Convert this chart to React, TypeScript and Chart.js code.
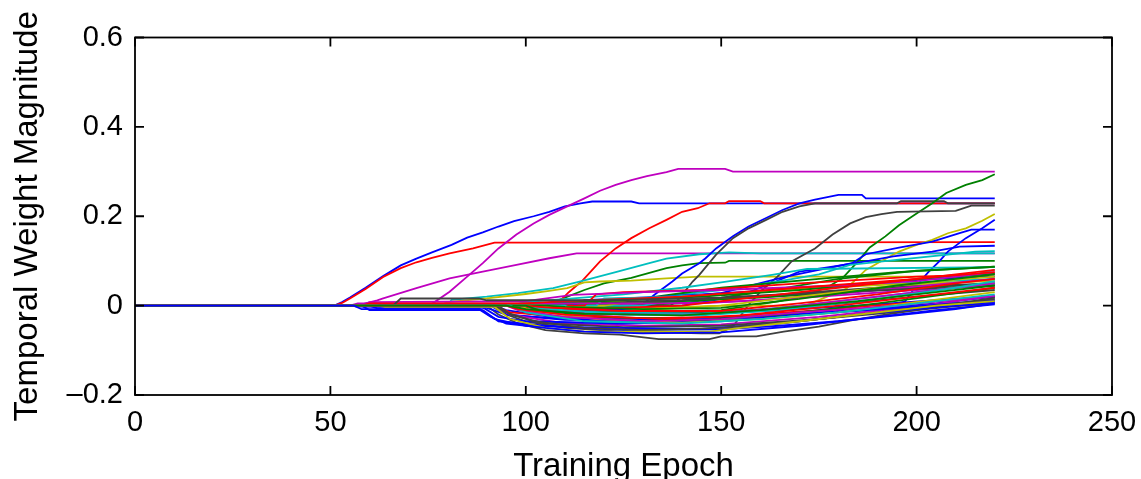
import React, { useEffect, useRef } from "react";
import { Chart, registerables } from "chart.js";

Chart.register(...registerables);

type Pt = [number, number];
type Trace = { color: string; points: Pt[] };

const COLORS: Record<string, string> = {
  b: "#0000ff",
  g: "#008000",
  r: "#ff0000",
  c: "#00bfbf",
  m: "#bf00bf",
  y: "#bfbf00",
  k: "#404040",
};

const xTicks = [0, 50, 100, 150, 200, 250];
const yTicks = [-0.2, 0, 0.2, 0.4, 0.6];
const xTitle = "Training Epoch";
const yTitle = "Temporal Weight Magnitude";

// traces that dip below zero in the middle of training
const dippingTraces: Trace[] = [
  { color: "b", points: [[0, 0], [56, 0], [58, -0.008], [88, -0.008], [91, -0.025], [95, -0.04], [105, -0.05], [115, -0.058], [130, -0.062], [150, -0.06], [170, -0.045], [190, -0.025], [205, -0.01], [220, 0.003]] },
  { color: "g", points: [[0, 0], [95, 0], [100, -0.008], [115, -0.018], [140, -0.022], [160, -0.01], [185, 0.01], [205, 0.03], [220, 0.045]] },
  { color: "r", points: [[0, 0], [95, 0], [98, -0.008], [110, -0.02], [135, -0.03], [155, -0.022], [180, 0.0], [200, 0.02], [220, 0.04]] },
  { color: "c", points: [[0, 0], [96, 0], [100, -0.015], [115, -0.035], [140, -0.04], [160, -0.03], [180, -0.015], [200, 0.005], [220, 0.025]] },
  { color: "m", points: [[0, 0], [95, 0], [98, -0.01], [110, -0.025], [130, -0.035], [150, -0.03], [170, -0.015], [195, 0.0], [220, 0.022]] },
  { color: "y", points: [[0, 0], [62, 0], [64, -0.003], [92, -0.003], [96, -0.03], [105, -0.05], [115, -0.058], [147, -0.058], [155, -0.05], [170, -0.035], [190, -0.015], [205, 0.0], [220, 0.01]] },
  { color: "k", points: [[0, 0], [92, 0], [95, -0.015], [102, -0.035], [115, -0.05], [130, -0.055], [150, -0.05], [170, -0.035], [190, -0.015], [210, 0.005], [220, 0.015]] },
  { color: "b", points: [[0, 0], [60, 0], [62, -0.006], [88, -0.006], [92, -0.03], [100, -0.045], [120, -0.05], [145, -0.052], [165, -0.04], [185, -0.02], [200, -0.008], [220, 0.008]] },
  { color: "g", points: [[0, 0], [100, 0], [104, -0.012], [120, -0.025], [145, -0.032], [165, -0.02], [190, 0.005], [210, 0.028], [220, 0.04]] },
  { color: "r", points: [[0, 0], [100, 0], [105, -0.004], [125, -0.012], [150, -0.012], [170, 0.005], [190, 0.025], [210, 0.05], [220, 0.06]] },
  { color: "c", points: [[0, 0], [100, 0], [104, -0.006], [125, -0.02], [145, -0.022], [165, -0.01], [190, 0.015], [210, 0.04], [220, 0.055]] },
  { color: "m", points: [[0, 0], [100, 0], [103, -0.01], [120, -0.02], [145, -0.02], [165, -0.005], [190, 0.02], [210, 0.04], [220, 0.05]] },
  { color: "y", points: [[0, 0], [98, 0], [102, -0.012], [118, -0.03], [140, -0.038], [160, -0.03], [180, -0.015], [200, 0.008], [220, 0.03]] },
  { color: "k", points: [[0, 0], [93, 0], [96, -0.02], [105, -0.04], [125, -0.048], [150, -0.045], [175, -0.03], [200, -0.01], [220, 0.018]] },
  { color: "b", points: [[0, 0], [64, 0], [66, -0.004], [89, -0.004], [93, -0.025], [100, -0.035], [125, -0.04], [150, -0.035], [175, -0.018], [200, -0.002], [220, 0.012]] },
  { color: "g", points: [[0, 0], [105, 0], [110, -0.003], [130, -0.008], [150, -0.005], [170, 0.015], [195, 0.045], [210, 0.06], [220, 0.07]] },
  { color: "r", points: [[0, 0], [98, 0], [102, -0.006], [115, -0.008], [140, 0.0], [160, 0.02], [185, 0.045], [205, 0.065], [220, 0.075]] },
  { color: "c", points: [[0, 0], [100, 0], [104, -0.01], [120, -0.015], [145, -0.018], [165, -0.005], [190, 0.02], [210, 0.04], [220, 0.05]] },
  { color: "m", points: [[0, 0], [92, 0], [96, -0.02], [110, -0.04], [130, -0.045], [150, -0.042], [175, -0.025], [200, -0.002], [220, 0.022]] },
  { color: "y", points: [[0, 0], [105, 0], [108, -0.003], [130, -0.006], [150, 0.0], [170, 0.02], [195, 0.045], [210, 0.058], [220, 0.065]] },
  { color: "k", points: [[0, 0], [100, 0], [104, -0.008], [125, -0.015], [150, -0.015], [175, 0.0], [200, 0.02], [220, 0.035]] },
  { color: "b", points: [[0, 0], [55, 0], [57, -0.002], [90, -0.005], [95, -0.02], [110, -0.03], [140, -0.032], [160, -0.025], [185, -0.01], [205, 0.005], [220, 0.02]] },
  { color: "r", points: [[0, 0], [92, 0], [96, -0.015], [110, -0.025], [130, -0.028], [150, -0.025], [175, -0.01], [200, 0.008], [220, 0.02]] },
  { color: "c", points: [[0, 0], [110, 0], [115, -0.02], [130, -0.03], [150, -0.03], [170, -0.02], [195, -0.005], [220, 0.012]] },
  { color: "b", points: [[0, 0], [97, 0], [100, -0.01], [115, -0.018], [140, -0.02], [160, -0.012], [185, 0.0], [205, 0.012], [220, 0.02]] },
  { color: "b", points: [[0, 0], [91, 0], [95, -0.02], [110, -0.032], [135, -0.036], [155, -0.03], [180, -0.012], [200, 0.0], [220, 0.01]] },
  { color: "b", points: [[0, 0], [58, 0], [60, -0.01], [89, -0.01], [93, -0.035], [105, -0.045], [125, -0.055], [150, -0.053], [165, -0.045], [180, -0.035], [195, -0.022], [210, -0.008], [220, 0.005]] },
  { color: "k", points: [[0, 0], [90, 0], [93, -0.02], [98, -0.04], [105, -0.055], [115, -0.062], [124, -0.065], [134, -0.075], [147, -0.075], [150, -0.069], [159, -0.069], [166, -0.058], [175, -0.047], [184, -0.032], [192, -0.02], [201, -0.009], [209, -0.002], [220, 0.005]] },
];

// traces that stay slightly positive and creep upwards
const smallRisers: Trace[] = [
  { color: "k", points: [[0, 0], [66, 0], [68, 0.016], [88, 0.016], [90, 0.012], [120, 0.012], [150, 0.018], [180, 0.03], [220, 0.045]] },
  { color: "r", points: [[0, 0], [58, 0], [60, 0.005], [100, 0.005], [110, 0.01], [140, 0.02], [170, 0.04], [200, 0.06], [220, 0.08]] },
  { color: "m", points: [[0, 0], [58, 0], [60, 0.008], [100, 0.01], [112, 0.024], [130, 0.03], [150, 0.035], [180, 0.045], [200, 0.055], [220, 0.075]] },
  { color: "m", points: [[0, 0], [55, 0], [57, 0.005], [144, 0.005], [160, 0.012], [185, 0.03], [220, 0.06]] },
  { color: "g", points: [[0, 0], [90, 0], [95, 0.003], [120, 0.01], [145, 0.02], [170, 0.035], [195, 0.055], [220, 0.072]] },
  { color: "r", points: [[0, 0], [115, 0], [118, 0.025], [125, 0.03], [145, 0.035], [170, 0.05], [200, 0.065], [220, 0.07]] },
  { color: "y", points: [[0, 0], [95, 0], [100, 0.005], [125, 0.012], [150, 0.025], [175, 0.04], [200, 0.05], [220, 0.055]] },
  { color: "c", points: [[0, 0], [118, 0], [120, 0.016], [130, 0.018], [150, 0.025], [175, 0.04], [200, 0.052], [220, 0.06]] },
  { color: "b", points: [[0, 0], [112, 0], [115, 0.012], [135, 0.02], [155, 0.03], [180, 0.045], [205, 0.06], [220, 0.065]] },
  { color: "k", points: [[0, 0], [108, 0], [112, 0.006], [140, 0.012], [165, 0.025], [190, 0.04], [220, 0.05]] },
  { color: "g", points: [[0, 0], [60, 0], [62, 0.002], [100, 0.002], [130, 0.006], [160, 0.018], [190, 0.035], [220, 0.05]] },
  { color: "y", points: [[0, 0], [120, 0], [125, 0.006], [150, 0.015], [175, 0.03], [200, 0.045], [220, 0.058]] },
  { color: "c", points: [[0, 0], [130, 0], [135, 0.008], [160, 0.02], [185, 0.035], [205, 0.05], [220, 0.08]] },
  { color: "m", points: [[0, 0], [120, 0], [125, 0.004], [150, 0.008], [175, 0.02], [200, 0.035], [220, 0.045]] },
  { color: "g", points: [[0, 0], [120, 0], [125, 0.01], [150, 0.04], [175, 0.06], [195, 0.075], [220, 0.087]] },
];

// traces that climb to the 0.1 - 0.2 band late in training
const lateRisers: Trace[] = [
  { color: "c", points: [[0, 0], [96, 0], [100, 0.008], [125, 0.025], [140, 0.04], [150, 0.052], [163, 0.069], [172, 0.082], [220, 0.086]] },
  { color: "g", points: [[0, 0], [105, 0], [110, -0.005], [140, 0.005], [160, 0.03], [180, 0.06], [200, 0.078], [220, 0.087]] },
  { color: "c", points: [[0, 0], [105, 0], [108, 0.005], [130, 0.015], [150, 0.035], [165, 0.055], [175, 0.07], [183, 0.091], [195.5, 0.103], [208, 0.114], [215, 0.121], [220, 0.122]] },
  { color: "b", points: [[0, 0], [100, 0], [102, -0.005], [120, -0.01], [140, 0.0], [150, 0.015], [157, 0.03], [164, 0.054], [170, 0.076], [178.5, 0.087], [187, 0.099], [194, 0.11], [204, 0.121], [211, 0.132], [220, 0.134]] },
  { color: "b", points: [[0, 0], [95, 0], [97, 0.004], [110, 0.008], [125, 0.012], [140, 0.02], [150, 0.028], [158, 0.046], [166.6, 0.065], [175, 0.08], [183.5, 0.095], [187, 0.115], [195.5, 0.13], [204, 0.143], [211, 0.162], [214, 0.17], [220, 0.17]] },
  { color: "b", points: [[0, 0], [92, 0], [95, -0.01], [110, -0.03], [140, -0.03], [170, -0.02], [185, -0.01], [192, 0.0], [197, 0.009], [200, 0.045], [203, 0.075], [205.8, 0.099], [208, 0.121], [212.6, 0.151], [216.8, 0.173], [220, 0.192]] },
  { color: "y", points: [[0, 0], [100, 0], [103, -0.005], [130, -0.01], [150, 0.0], [162, 0.0], [171, -0.002], [182, 0.038], [187, 0.08], [191, 0.1], [195.5, 0.121], [200, 0.136], [204, 0.147], [208, 0.162], [212.6, 0.173], [216.8, 0.19], [220, 0.205]] },
  { color: "k", points: [[0, 0], [92, 0], [95, -0.02], [100, -0.035], [110, -0.05], [125, -0.058], [145, -0.062], [149.5, -0.062], [153, -0.047], [157, 0.002], [160.5, 0.035], [164.4, 0.065], [168, 0.099], [174, 0.128], [178.5, 0.159], [183, 0.184], [187, 0.198], [191, 0.205], [195, 0.21], [210, 0.212], [214, 0.224], [220, 0.224]] },
  { color: "g", points: [[0, 0], [100, 0], [104, -0.01], [120, -0.015], [150, -0.01], [165, 0.01], [172, 0.025], [177, 0.04], [181, 0.061], [185, 0.099], [188, 0.13], [192, 0.155], [195.5, 0.18], [200, 0.206], [204, 0.229], [207.6, 0.252], [212.6, 0.27], [216.8, 0.281], [220, 0.294]] },
];

// the large early movers
const majorTraces: Trace[] = [
  { color: "k", points: [[0, 0], [137, 0], [139, 0.013], [142.7, 0.054], [144.4, 0.069], [148.7, 0.114], [153, 0.151], [157, 0.173], [161.5, 0.192], [165.7, 0.21], [170, 0.222], [174, 0.229], [195, 0.229], [196, 0.234], [207, 0.234], [208, 0.229], [220, 0.229]] },
  { color: "b", points: [[0, 0], [128, 0], [130, 0.004], [133, 0.025], [137.5, 0.054], [140, 0.072], [144.4, 0.095], [146, 0.106], [148.7, 0.128], [153, 0.155], [157, 0.177], [161.5, 0.196], [165.7, 0.214], [170, 0.229], [174, 0.237], [180, 0.248], [186, 0.248], [187, 0.24], [220, 0.24]] },
  { color: "y", points: [[0, 0], [78, 0], [80, 0.008], [90, 0.016], [100, 0.026], [106, 0.033], [110.6, 0.039], [115, 0.052], [119, 0.054], [127, 0.056], [136, 0.061], [144.4, 0.065], [220, 0.065]] },
  { color: "c", points: [[0, 0], [80, 0], [81, 0.013], [90, 0.02], [98, 0.028], [107, 0.039], [114, 0.054], [123, 0.075], [131.6, 0.095], [136, 0.105], [144.4, 0.115], [152, 0.119], [160, 0.117], [220, 0.117]] },
  { color: "r", points: [[0, 0], [106, 0], [108.6, 0.009], [111, 0.03], [114.5, 0.056], [119, 0.099], [123, 0.128], [127, 0.151], [131.6, 0.173], [136, 0.192], [140, 0.21], [144, 0.218], [147, 0.229], [151, 0.229], [152, 0.234], [160, 0.234], [161, 0.229], [220, 0.229]] },
  { color: "m", points: [[0, 0], [57, 0], [59, 0.005], [62, 0.012], [63.5, 0.016], [72, 0.039], [80.5, 0.061], [89, 0.076], [97.6, 0.091], [106, 0.106], [113, 0.117], [220, 0.117]] },
  { color: "m", points: [[0, 0], [74, 0], [76, 0.004], [80.5, 0.031], [85, 0.065], [89, 0.095], [93, 0.128], [97.6, 0.159], [102, 0.184], [106, 0.203], [110.6, 0.222], [115, 0.24], [119, 0.257], [123, 0.27], [127, 0.281], [131, 0.29], [136, 0.299], [139, 0.306], [151, 0.306], [153, 0.3], [220, 0.3]] },
  { color: "r", points: [[0, 0], [51, 0], [53, 0.006], [55, 0.016], [59, 0.037], [63.5, 0.064], [68, 0.084], [72, 0.097], [76, 0.107], [80.5, 0.117], [86.5, 0.128], [92, 0.141], [220, 0.142]] },
  { color: "b", points: [[0, 0], [51, 0], [53, 0.008], [55, 0.018], [59, 0.04], [63.5, 0.066], [68, 0.09], [72, 0.105], [76, 0.119], [81, 0.136], [85, 0.152], [89, 0.164], [93, 0.177], [97, 0.189], [102, 0.2], [106, 0.21], [110, 0.222], [114, 0.229], [117, 0.233], [127, 0.233], [129, 0.229], [220, 0.229]] },
  { color: "g", points: [[0, 0], [98, 0], [105, 0.0], [110, 0.018], [115, 0.035], [120, 0.05], [127, 0.062], [136, 0.084], [140, 0.09], [144.4, 0.095], [151, 0.096], [152, 0.1], [220, 0.1]] },
];

const FONT = "'Liberation Sans', Arial, Helvetica, sans-serif";

const fmtY = (v: number) => {
  if (Math.abs(v) < 1e-9) return "0";
  return v < 0 ? "\u2013" + Math.abs(v).toFixed(1) : v.toFixed(1);
};

const boxPlugin = {
  id: "matlabBox",
  afterDraw(chart: any) {
    const { ctx, chartArea, scales } = chart;
    const { left, right, top, bottom } = chartArea;
    const tick = 9;
    ctx.save();
    ctx.strokeStyle = "#000";
    ctx.lineWidth = 1.8;
    ctx.beginPath();
    for (const v of xTicks) {
      const px = scales.x.getPixelForValue(v);
      ctx.moveTo(px, bottom);
      ctx.lineTo(px, bottom - tick);
      ctx.moveTo(px, top);
      ctx.lineTo(px, top + tick);
    }
    for (const v of yTicks) {
      const py = scales.y.getPixelForValue(v);
      ctx.moveTo(left, py);
      ctx.lineTo(left + tick, py);
      ctx.moveTo(right, py);
      ctx.lineTo(right - tick, py);
    }
    ctx.stroke();
    ctx.strokeRect(left, top, right - left, bottom - top);
    ctx.restore();
  },
};

export default function App() {
  const ref = useRef<HTMLCanvasElement | null>(null);

  useEffect(() => {
    document.body.style.margin = "0";
    const canvas = ref.current;
    if (!canvas) return;
    const all: Trace[] = [...dippingTraces, ...smallRisers, ...lateRisers, ...majorTraces];
    const datasets = all.map((t, i) => ({
      label: "w" + i,
      data: t.points.map(([x, y]) => ({ x, y })),
      borderColor: COLORS[t.color],
      backgroundColor: COLORS[t.color],
      borderWidth: 1.8,
      pointRadius: 0,
      pointHoverRadius: 0,
      tension: 0,
      fill: false,
    }));

    const chart = new Chart(canvas, {
      type: "line",
      data: { datasets },
      plugins: [boxPlugin],
      options: {
        responsive: false,
        animation: false,
        devicePixelRatio: 1,
        parsing: false as any,
        layout: { padding: { top: 37.5, right: 29, left: 0, bottom: 0 } },
        plugins: { legend: { display: false }, tooltip: { enabled: false } },
        scales: {
          x: {
            type: "linear",
            min: 0,
            max: 250,
            grid: { display: false, drawTicks: false },
            border: { display: false },
            afterBuildTicks: (s: any) => {
              s.ticks = xTicks.map((v) => ({ value: v }));
            },
            afterFit: (s: any) => {
              s.height = 84;
              s.paddingLeft = 0;
              s.paddingRight = 0;
            },
            ticks: {
              color: "#000",
              padding: 11,
              maxRotation: 0,
              autoSkip: false,
              font: { family: FONT, size: 29 },
              callback: (v: any) => String(v),
            },
            title: {
              display: true,
              text: xTitle,
              color: "#000",
              padding: 0,
              font: { family: FONT, size: 33, lineHeight: 0.75 },
            },
          },
          y: {
            type: "linear",
            min: -0.2,
            max: 0.6,
            grid: { display: false, drawTicks: false },
            border: { display: false },
            afterBuildTicks: (s: any) => {
              s.ticks = yTicks.map((v) => ({ value: v }));
            },
            afterFit: (s: any) => {
              s.width = 135;
              s.paddingTop = 0;
              s.paddingBottom = 0;
            },
            ticks: {
              color: "#000",
              padding: 12,
              autoSkip: false,
              font: { family: FONT, size: 29 },
              callback: (v: any) => fmtY(Number(v)),
            },
            title: {
              display: true,
              text: yTitle,
              color: "#000",
              padding: { top: 11, bottom: 0 },
              font: { family: FONT, size: 33, lineHeight: 1 },
            },
          },
        },
      },
    });
    return () => chart.destroy();
  }, []);

  return (
    <div style={{ width: 1141, height: 479, background: "#fff" }}>
      <canvas ref={ref} width={1141} height={479} style={{ display: "block", width: 1141, height: 479 }} />
    </div>
  );
}
